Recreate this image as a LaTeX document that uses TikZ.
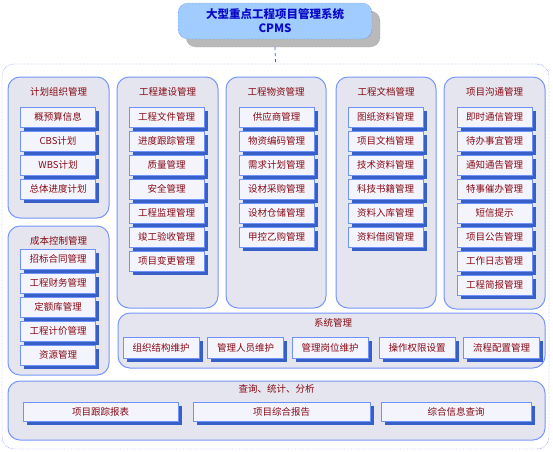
\documentclass[tikz,border=0pt]{standalone}
\usepackage{fontspec}
\setmainfont{Noto Sans CJK SC}
\usetikzlibrary{shadows}
\definecolor{framesblue}{RGB}{60, 90, 230}
\definecolor{panelblue}{RGB}{120, 150, 255}
\definecolor{panelgray}{RGB}{228, 229, 238}
\definecolor{itemblue}{RGB}{110, 145, 250}
\definecolor{itemfill}{RGB}{244, 244, 252}
\definecolor{shadowblue}{RGB}{55, 95, 200}
\definecolor{itemred}{RGB}{135, 10, 20}
\definecolor{titlefill}{RGB}{160, 204, 255}
\definecolor{titleblue}{RGB}{10, 10, 200}
\definecolor{shadowgray}{RGB}{185, 185, 185}

\tikzset{
  panel/.style={draw=panelblue, line width=1pt, fill=panelgray, rounded corners=12pt, inner sep=0pt},
  paneltitle/.style={text=itemred, font=\fontsize{9.5}{11}\selectfont},
  itembox/.style={draw=itemblue, fill=itemfill, minimum width=75pt, minimum height=20pt, inner sep=0pt,
    text=itemred, font=\fontsize{9.5}{11}\selectfont,
    drop shadow={shadow xshift=3.5pt, shadow yshift=-3.5pt, fill=shadowblue, opacity=1}},
}

\begin{document}
\begin{tikzpicture}[x=1pt,y=-1pt]
    \useasboundingbox (0,0) rectangle (553,451);

    % outer frame of the system
    \node[draw=framesblue, densely dotted, fill=white, rounded corners=12pt,
          minimum width=547pt, minimum height=385pt] (frame) at (275.5,256.5) {};

    % system title
    \node[draw=gray, densely dotted, fill=shadowgray, rounded corners=10pt,
          minimum width=194pt, minimum height=36pt] (titleshade) at (283,29) {};
    \node[draw=framesblue, densely dotted, fill=titlefill, rounded corners=10pt, align=center,
          minimum width=194pt, minimum height=36pt, inner sep=0pt, text=titleblue,
          font=\fontsize{11.5}{14}\selectfont\bfseries]
        (title) at (275,21) {大型重点工程项目管理系统\\CPMS};
    \draw[dashed, framesblue, line width=0.8pt] (titleshade.south -| title.south) -- (frame.north);

    % module panels
    \node[panel, minimum width=101pt, minimum height=141pt] (plan) at (58.5,147.5) {};
    \node[panel, minimum width=101pt, minimum height=231pt] (build) at (167.5,192.5) {};
    \node[panel, minimum width=100pt, minimum height=231pt] (goods) at (276,192.5) {};
    \node[panel, minimum width=100pt, minimum height=231pt] (docs) at (386,192.5) {};
    \node[panel, minimum width=101pt, minimum height=232pt] (comm) at (494.5,193) {};
    \node[panel, minimum width=101pt, minimum height=149pt] (cost) at (58.5,300.5) {};
    \node[panel, minimum width=427pt, minimum height=55pt] (sys) at (331.5,340.5) {};
    \node[panel, minimum width=537pt, minimum height=59pt] (query) at (276.5,410.5) {};

    % panel titles
    \node[paneltitle] (plant) at (58.5,92) {计划组织管理};
    \node[paneltitle] (buildt) at (167.5,92) {工程建设管理};
    \node[paneltitle] (goodst) at (276,92) {工程物资管理};
    \node[paneltitle] (docst) at (386,92) {工程文档管理};
    \node[paneltitle] (commt) at (494.5,92) {项目沟通管理};
    \node[paneltitle] (costt) at (58.5,241) {成本控制管理};
    \node[paneltitle] (syst) at (333,323) {系统管理};
    \node[paneltitle] (queryt) at (276.5,389) {查询、统计、分析};

    % items of each panel
    \foreach \txt [count=\i] in {概预算信息,CBS计划,WBS计划,总体进度计划}
        \node[itembox] (plan\i) at (58,{117+24*(\i-1)}) {\txt};
    \foreach \txt [count=\i] in {工程文件管理,进度跟踪管理,质量管理,安全管理,工程监理管理,竣工验收管理,项目变更管理}
        \node[itembox] (build\i) at (166.5,{117+24*(\i-1)}) {\txt};
    \foreach \txt [count=\i] in {供应商管理,物资编码管理,需求计划管理,设材采购管理,设材仓储管理,甲控乙购管理}
        \node[itembox] (goods\i) at (276.5,{117+24*(\i-1)}) {\txt};
    \foreach \txt [count=\i] in {图纸资料管理,项目文档管理,技术资料管理,科技书籍管理,资料入库管理,资料借阅管理}
        \node[itembox] (docs\i) at (385.5,{117+24*(\i-1)}) {\txt};
    \foreach \txt [count=\i] in {即时通信管理,待办事宜管理,通知通告管理,特事催办管理,短信提示,项目公告管理,工作日志管理,工程简报管理}
        \node[itembox] (comm\i) at (494.5,{117+24*(\i-1)}) {\txt};
    \foreach \txt [count=\i] in {招标合同管理,工程财务管理,定额库管理,工程计价管理,资源管理}
        \node[itembox] (cost\i) at (58,{259+24*(\i-1)}) {\txt};
    \foreach \txt/\xc [count=\i] in {组织结构维护/161,管理人员维护/245.5,管理岗位维护/330,操作权限设置/417,流程配置管理/501.5}
        \node[itembox, minimum width=76pt, minimum height=21pt] (sys\i) at (\xc,347.5) {\txt};
    \node[itembox, minimum width=155pt, minimum height=19pt] (query1) at (100.5,412) {项目跟踪报表};
    \node[itembox, minimum width=177pt, minimum height=19pt] (query2) at (281.5,412) {项目综合报告};
    \node[itembox, minimum width=150pt, minimum height=19pt] (query3) at (456,412) {综合信息查询};
\end{tikzpicture}
\end{document}
